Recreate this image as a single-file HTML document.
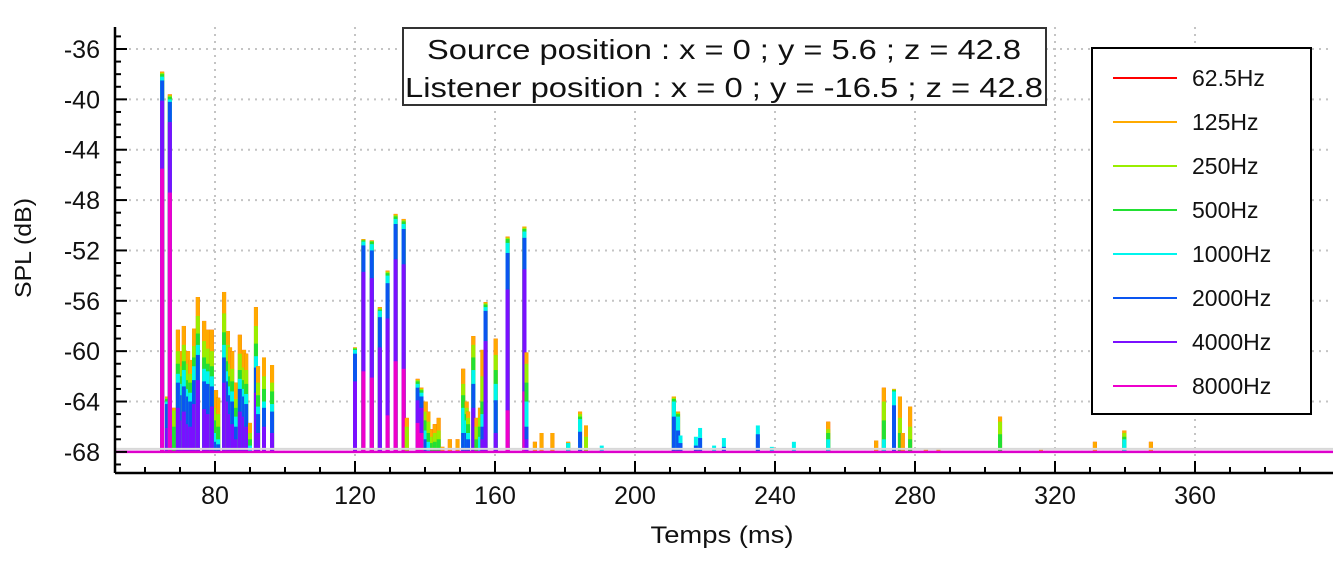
<!DOCTYPE html>
<html><head><meta charset="utf-8"><style>
html,body{margin:0;padding:0;background:#fff;}
body{width:1344px;height:562px;overflow:hidden;font-family:"Liberation Sans",sans-serif;}
svg{display:block}
</style></head><body>
<svg id="chart" width="1344" height="562" viewBox="0 0 1344 562" xmlns="http://www.w3.org/2000/svg">
<rect x="0" y="0" width="1344" height="562" fill="#fff"/>
<g id="grid"></g>
<g id="bars"></g>
<g id="axes"></g>
<text x="722" y="543" font-size="24" text-anchor="middle" textLength="143" lengthAdjust="spacingAndGlyphs" fill="#111">Temps (ms)</text>
<text transform="translate(31,248) rotate(-90)" font-size="23" text-anchor="middle" textLength="100" lengthAdjust="spacingAndGlyphs" fill="#111">SPL (dB)</text>
<g>
<rect x="403" y="28" width="643" height="77" fill="#fff" stroke="#333" stroke-width="2"/>
<text x="724" y="59" font-size="28" text-anchor="middle" textLength="594" lengthAdjust="spacingAndGlyphs" fill="#111">Source position : x = 0 ; y = 5.6 ; z = 42.8</text>
<text x="724" y="97" font-size="28" text-anchor="middle" textLength="638" lengthAdjust="spacingAndGlyphs" fill="#111">Listener position : x = 0 ; y = -16.5 ; z = 42.8</text>
</g>
<g id="legend">
<rect x="1092" y="48" width="219" height="366" fill="#fff" stroke="#000" stroke-width="2"/>
</g>
</svg>
<script>
const bandLabels = ["62.5Hz","125Hz","250Hz","500Hz","1000Hz","2000Hz","4000Hz","8000Hz"];
const bandColors = ["#ff0000","#ffaa00","#99ee00","#22e033","#00f5ee","#0a55f0","#7a10ff","#ee00cc"];
const xTicks = [80,120,160,200,240,280,320,360];
const yTicks = [-36,-40,-44,-48,-52,-56,-60,-64,-68];
const times = [64.9,66.3,67.1,68.3,69.4,70.6,71.1,72.3,72.9,74.0,
 75.1,76.9,78.0,79.1,80.3,80.9,82.6,83.7,84.3,84.9,
 86.0,87.1,88.3,88.9,90.0,91.7,92.3,94.0,96.3,120.0,
 122.4,124.8,127.1,129.3,131.6,133.9,134.8,137.9,139.0,140.2,
 141.0,142.0,142.8,143.9,145.0,147.1,149.3,150.9,151.9,152.3,
 153.8,154.7,155.7,156.4,157.3,160.2,163.6,168.4,169.0,171.4,
 173.3,176.4,180.9,184.3,186.0,190.5,211.1,212.3,213.0,217.4,
 218.6,222.6,225.4,235.1,239.1,245.4,255.2,268.9,271.1,274.0,
 275.7,276.5,278.6,283.1,286.7,304.3,316.0,331.4,339.8,347.4];
const s62 = [-37.8,-63.6,-39.6,-64.5,-58.3,-60.0,-58.0,-60.0,-60.7,-58.2,
 -55.7,-57.6,-58.3,-58.3,-63.1,-63.7,-55.3,-58.4,-59.7,-60.0,
 -62.5,-58.7,-59.9,-60.2,-65.7,-56.5,-61.2,-60.5,-61.1,-59.7,
 -51.1,-51.2,-56.5,-53.6,-49.1,-49.5,-65.3,-62.2,-62.9,-64.0,
 -64.8,-66.2,-65.8,-65.3,-67.6,-67.0,-67.0,-61.4,-64.0,-64.8,
 -58.8,-65.3,-64.5,-59.9,-56.1,-59.0,-50.9,-50.1,-60.1,-67.2,
 -66.5,-66.5,-67.2,-64.8,-65.9,-68,-63.6,-64.8,-68,-68,
 -68,-68,-68,-68,-68,-68,-65.6,-67.1,-62.9,-63.0,
 -63.6,-66.5,-64.4,-67.8,-67.8,-65.2,-67.8,-67.2,-66.3,-67.2];
const s125 = [-37.8,-63.6,-39.6,-64.5,-58.3,-60.0,-58.0,-60.0,-60.7,-58.2,
 -55.7,-57.6,-58.3,-58.3,-63.1,-63.7,-55.3,-58.4,-59.7,-60.0,
 -62.5,-58.7,-59.9,-60.2,-65.7,-56.5,-61.2,-60.5,-61.1,-59.7,
 -51.1,-51.2,-56.5,-53.6,-49.1,-49.5,-65.3,-62.2,-62.9,-64.0,
 -64.8,-66.2,-65.8,-65.3,-67.6,-67.0,-67.0,-61.4,-64.0,-64.8,
 -58.8,-65.3,-64.5,-59.9,-56.1,-59.0,-50.9,-50.1,-60.1,-67.2,
 -66.5,-66.5,-67.2,-64.8,-65.9,-68,-63.6,-64.8,-68,-68,
 -68,-68,-68,-68,-68,-68,-65.6,-67.1,-62.9,-63.0,
 -63.6,-66.5,-64.4,-67.8,-67.8,-65.2,-67.8,-67.2,-66.3,-67.2];
const s250 = [-37.9,-63.7,-39.7,-64.7,-60.0,-61.2,-59.5,-61.0,-61.8,-59.6,
 -57.2,-59.2,-59.8,-60.0,-64.5,-65.0,-57.0,-59.5,-61.0,-61.4,
 -63.8,-60.2,-61.3,-61.5,-66.5,-58.0,-62.5,-62.0,-62.5,-59.75,
 -51.15,-51.25,-56.6,-53.7,-49.2,-49.6,-66.0,-62.3,-63.0,-64.8,
 -65.6,-66.8,-66.5,-66.3,-68,-68,-68,-62.6,-64.5,-65.3,
 -59.5,-66.0,-65.3,-62.0,-56.2,-60.3,-51.0,-50.2,-61.0,-68,
 -68,-68,-67.3,-65.0,-66.8,-68,-63.7,-64.9,-68,-68,
 -68,-68,-68,-68,-68,-68,-66.2,-68,-64.0,-63.05,
 -65.3,-68,-66.0,-68,-68,-65.6,-68,-68,-66.5,-68];
const s500 = [-38.0,-63.8,-39.8,-66.0,-61.0,-62.0,-60.8,-62.3,-62.5,-60.5,
 -58.6,-60.5,-61.0,-61.2,-65.5,-66.0,-58.5,-60.8,-62.0,-62.4,
 -64.5,-61.5,-62.3,-62.6,-67.0,-59.4,-63.5,-63.0,-63.2,-59.8,
 -51.2,-51.3,-56.7,-53.8,-49.3,-49.7,-68,-62.4,-63.1,-65.5,
 -66.5,-67.3,-67.2,-67.0,-68,-68,-68,-63.5,-65.0,-65.8,
 -60.5,-67.0,-66.0,-64.0,-56.3,-61.5,-51.1,-50.3,-62.5,-68,
 -68,-68,-67.3,-65.2,-68,-68,-63.8,-65.0,-68,-68,
 -68,-68,-68,-68,-68,-68,-66.5,-68,-65.5,-63.1,
 -66.5,-68,-67.0,-68,-68,-66.6,-68,-68,-66.8,-68];
const s1000 = [-38.2,-64.0,-40.0,-68,-61.8,-62.6,-61.5,-63.0,-63.3,-61.2,
 -59.5,-61.4,-61.6,-62.0,-66.5,-67.0,-59.5,-61.6,-62.8,-63.2,
 -65.2,-62.2,-63.0,-63.4,-67.5,-60.4,-64.4,-64.0,-64.2,-59.9,
 -51.3,-51.5,-56.8,-54.0,-49.5,-49.9,-68,-62.6,-63.3,-66.3,
 -67.2,-68,-68,-68,-68,-68,-68,-64.5,-65.5,-66.5,
 -61.5,-68,-66.8,-65.0,-56.5,-62.6,-51.4,-50.5,-64.0,-68,
 -68,-68,-67.3,-65.4,-68,-67.5,-64.0,-65.2,-66.7,-66.8,
 -66.1,-67.5,-66.9,-65.9,-67.6,-67.2,-67.0,-68,-67.0,-63.2,
 -68,-68,-68,-68,-68,-68,-68,-68,-67.0,-68];
const s2000 = [-38.5,-64.2,-40.2,-68,-62.5,-63.5,-62.8,-63.6,-64.0,-62.3,
 -60.3,-62.4,-62.6,-62.8,-67.2,-67.4,-60.5,-62.4,-63.5,-64.0,
 -66.0,-63.0,-63.6,-64.2,-68,-61.3,-65.0,-64.5,-64.8,-60.2,
 -51.6,-52.0,-57.3,-54.6,-49.9,-50.3,-68,-62.9,-63.6,-67.0,
 -68,-68,-68,-68,-68,-68,-68,-66.5,-66.5,-67.0,
 -62.6,-68,-68,-66.0,-56.8,-63.9,-52.2,-51.0,-66.0,-68,
 -68,-68,-68,-66.4,-68,-68,-65.2,-66.3,-67.3,-67.5,
 -66.9,-68,-67.6,-66.6,-68,-68,-68,-68,-68,-64.3,
 -68,-68,-68,-68,-68,-68,-68,-68,-68,-68];
const s4000 = [-40.1,-66.1,-41.8,-68,-64.5,-65.5,-64.8,-65.8,-66.0,-64.2,
 -62.3,-64.6,-65.0,-64.4,-68,-68,-62.5,-64.0,-65.0,-65.8,
 -67.0,-64.8,-65.2,-66.0,-68,-63.3,-66.5,-66.0,-66.5,-62.4,
 -53.7,-54.2,-59.7,-57.4,-52.7,-53.1,-68,-63.9,-64.5,-68,
 -68,-68,-68,-68,-68,-68,-68,-68,-68,-68,
 -64.5,-68,-68,-67.0,-59.2,-66.5,-55.1,-53.5,-67.0,-68,
 -68,-68,-68,-68,-68,-68,-68,-68,-68,-68,
 -68,-68,-68,-68,-68,-68,-68,-68,-68,-68,
 -68,-68,-68,-68,-68,-68,-68,-68,-68,-68];
const s8000 = [-45.5,-68,-47.4,-68,-68,-68,-68,-68,-68,-68,
 -68,-68,-68,-68,-68,-68,-68,-68,-68,-68,
 -68,-68,-68,-68,-68,-68,-68,-68,-68,-68,
 -61.6,-62.1,-68,-65.1,-60.8,-61.4,-68,-65.7,-66.5,-68,
 -68,-68,-68,-68,-68,-68,-68,-68,-68,-68,
 -68,-68,-68,-68,-68,-68,-64.7,-63.2,-68,-68,
 -68,-68,-68,-68,-68,-68,-68,-68,-68,-68,
 -68,-68,-68,-68,-68,-68,-68,-68,-68,-68,
 -68,-68,-68,-68,-68,-68,-68,-68,-68,-68];

const NS = "http://www.w3.org/2000/svg";
const PL = 115, PR = 1333, PT = 27, PB = 473;
function xs(t){ return 215 + (t - 80) * 3.5; }
function ys(v){ return 49 + (-36 - v) * 12.59; }
const BASE = ys(-68);
function mk(tag, attrs, parent){
  const e = document.createElementNS(NS, tag);
  for (const k in attrs) e.setAttribute(k, attrs[k]);
  parent.appendChild(e);
  return e;
}
const grid = document.getElementById('grid');
const axes = document.getElementById('axes');
const barsG = document.getElementById('bars');

xTicks.forEach(t => {
  const l = mk('line', {x1: xs(t), x2: xs(t), y1: PT, y2: PB, stroke: '#c4c4c4', 'stroke-width': 2, 'stroke-dasharray': '2 5'}, grid);
  
  
});
yTicks.forEach(v => {
  const l = mk('line', {x1: PL, x2: PR, y1: ys(v), y2: ys(v), stroke: '#c4c4c4', 'stroke-width': 2, 'stroke-dasharray': '2 5'}, grid);
  
  
});

const series = [s62, s125, s250, s500, s1000, s2000, s4000, s8000];
times.forEach((t, i) => {
  const vals = series.map((s, b) => ({v: s[i], b: b})).filter(o => o.v > -68);
  vals.sort((a, c) => c.v - a.v || a.b - c.b);
  vals.forEach(o => {
    const r = mk('rect', {x: xs(t) - 2, y: ys(o.v), width: 4, height: BASE - ys(o.v), fill: bandColors[o.b]}, barsG);
    
    
  });
});

const gl = mk('line', {x1: PL, x2: PR, y1: BASE - 3, y2: BASE - 3, stroke: '#d8d8d8', 'stroke-width': 2}, barsG);


const ml = mk('line', {x1: PL, x2: PR, y1: BASE, y2: BASE, stroke: '#dd00cc', 'stroke-width': 2.5}, barsG);



const ya = mk('line', {x1: PL, x2: PL, y1: PT, y2: PB, stroke: '#000', 'stroke-width': 2.5}, axes);


const xa = mk('line', {x1: PL, x2: PR, y1: PB, y2: PB, stroke: '#000', 'stroke-width': 2.5}, axes);


for (let v = -69; v <= -35; v++) {
  const major = (v % 4 === 0);
  const tk = mk('line', {x1: PL, x2: PL + (major ? 12 : 6), y1: ys(v), y2: ys(v), stroke: '#000', 'stroke-width': 2}, axes);
  
  
}
for (let t = 60; t <= 399; t += 10) {
  const major = (t % 40 === 0);
  const tk = mk('line', {x1: xs(t), x2: xs(t), y1: PB, y2: PB - (major ? 12 : 6), stroke: '#000', 'stroke-width': 2}, axes);
  
  
}
yTicks.forEach(v => {
  const tx = mk('text', {x: 100, y: ys(v) + 9, 'font-size': 25, 'text-anchor': 'end', fill: '#111'}, axes);
  tx.textContent = String(v);
  
  
});
xTicks.forEach(t => {
  const tx = mk('text', {x: xs(t), y: 504, 'font-size': 25, 'text-anchor': 'middle', fill: '#111'}, axes);
  tx.textContent = String(t);
  
  
});

const lg = document.getElementById('legend');
bandLabels.forEach((lab, i) => {
  const yy = 78 + i * 44;
  const g = mk('g', {}, lg);
  
  
  mk('line', {x1: 1113, x2: 1177, y1: yy, y2: yy, stroke: bandColors[i], 'stroke-width': 2}, g);
  const tx = mk('text', {x: 1192, y: yy + 8, 'font-size': 23, fill: '#111'}, g);
  tx.textContent = lab;
});
</script>
</body></html>
